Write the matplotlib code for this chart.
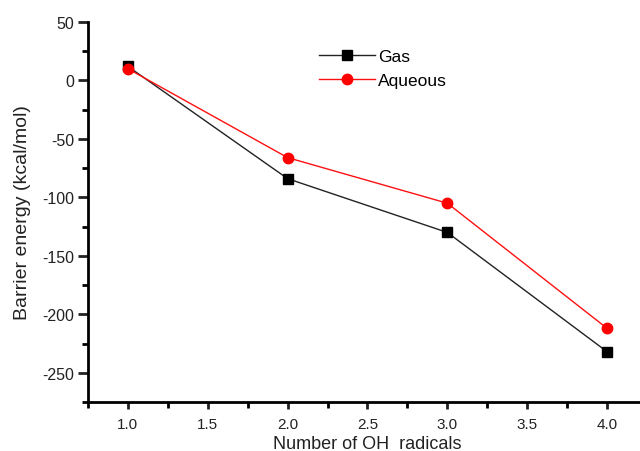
import matplotlib
matplotlib.use("Agg")
import matplotlib.pyplot as plt
from matplotlib.ticker import MultipleLocator

x = [1.0, 2.0, 3.0, 4.0]
gas = [12, -84, -130, -232]
aqueous = [10, -66, -105, -212]

plt.rcParams['font.family'] = ['Liberation Sans', 'DejaVu Sans']
plt.rcParams['axes.unicode_minus'] = False

fig = plt.figure(figsize=(6.4, 4.52), dpi=100)
ax = fig.add_axes([88/640, 1-403/452, 559/640, 380/452])

ax.plot(x, gas, color='#222222', lw=1.0, marker='s', ms=6.5, mfc='black', mec='black', label='Gas')
ax.plot(x, aqueous, color='#ff1010', lw=1.0, marker='o', ms=7.5, mfc='#ff0000', mec='#ff0000', label='Aqueous')

ax.set_xlim(0.75, 4.25)
ax.set_ylim(-275, 50)
ax.xaxis.set_major_locator(MultipleLocator(0.5))
ax.xaxis.set_minor_locator(MultipleLocator(0.25))
ax.yaxis.set_major_locator(MultipleLocator(50))
ax.yaxis.set_minor_locator(MultipleLocator(25))
ax.xaxis.set_major_formatter(matplotlib.ticker.FormatStrFormatter('%.1f'))

for s in ['top', 'right']:
    ax.spines[s].set_visible(False)
for s in ['left', 'bottom']:
    ax.spines[s].set_linewidth(2)
ax.tick_params(axis='y', which='major', direction='out', length=7, width=2, labelsize=11.5, colors='#222222', pad=3)
ax.tick_params(axis='x', which='major', direction='out', length=5, width=2, labelsize=11, colors='#222222', pad=6)
ax.tick_params(which='minor', direction='out', length=4, width=2)

ax.set_xlabel('Number of OH  radicals', fontsize=13, color='#222222', labelpad=2.5)
ax.set_ylabel('Barrier energy (kcal/mol)', fontsize=14, color='#222222', labelpad=8)

ax.legend(loc='upper left', bbox_to_anchor=(0.401, 0.948), frameon=False, fontsize=12.5,
          handlelength=3.2, handletextpad=0.2, labelspacing=0.5, borderaxespad=0)

fig.savefig('out.png', dpi=100)
